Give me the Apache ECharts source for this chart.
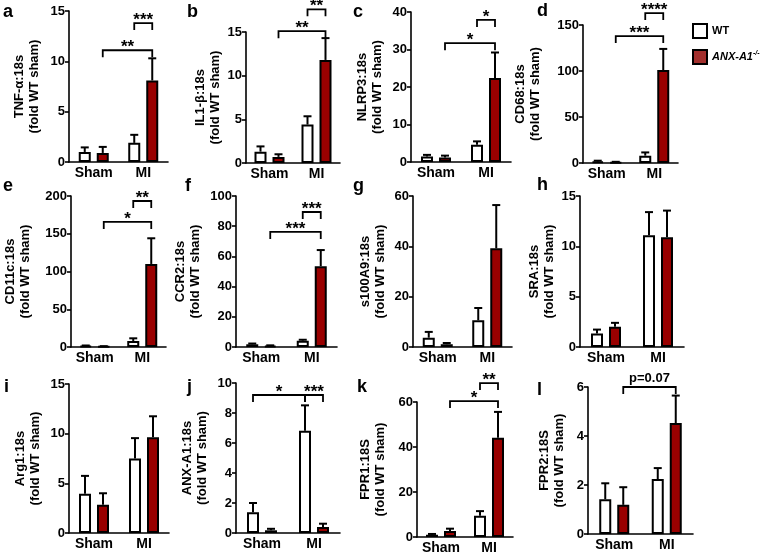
<!DOCTYPE html>
<html><head><meta charset="utf-8">
<script src="https://cdn.jsdelivr.net/npm/echarts@6/dist/echarts.min.js"></script>
<style>html,body{margin:0;padding:0;background:#fff}#c{width:760px;height:556px}</style>
</head><body><div id="c"></div>
<script>
const categories = ['Sham', 'MI'];
const seriesNames = ['WT', 'KO'];
// values: [Sham, MI]; errors are the upward SEM bars
const tnfWT = [1.0, 1.9],  tnfWTErr = [0.45, 0.8],  tnfKO = [0.9, 8.1],   tnfKOErr = [0.6, 2.2];
const il1WT = [1.3, 4.4],  il1WTErr = [0.6, 0.95],  il1KO = [0.7, 11.8],  il1KOErr = [0.3, 2.5];
const nlrWT = [1.5, 4.6],  nlrWTErr = [0.4, 0.9],   nlrKO = [1.2, 22.4],  nlrKOErr = [0.5, 6.8];
const cd68WT = [1.5, 8],   cd68WTErr = [1.0, 3.5],  cd68KO = [0.8, 101],  cd68KOErr = [0.5, 23];
const cd11WT = [1.5, 8],   cd11WTErr = [0.5, 3.5],  cd11KO = [0.8, 110],  cd11KOErr = [0.3, 34];
const ccr2WT = [1.8, 4.2], ccr2WTErr = [0.5, 0.6],  ccr2KO = [0.8, 53.5], ccr2KOErr = [0.3, 10.7];
const s100WT = [3.7, 10.6], s100WTErr = [2.3, 4.9], s100KO = [1.1, 39.2], s100KOErr = [0.5, 17.2];
const sraWT = [1.33, 11.1], sraWTErr = [0.4, 2.3],  sraKO = [2.0, 10.9],  sraKOErr = [0.4, 2.65];
const argWT = [3.95, 7.5], argWTErr = [1.8, 2.05],  argKO = [2.85, 9.65], argKOErr = [1.15, 2.1];
const anxWT = [1.38, 6.82], anxWTErr = [0.62, 1.69], anxKO = [0.18, 0.4], anxKOErr = [0.1, 0.22];
const fpr1WT = [1.0, 9.4], fpr1WTErr = [0.35, 2.1], fpr1KO = [2.7, 44.1], fpr1KOErr = [1.0, 11.5];
const fpr2WT = [1.42, 2.24], fpr2WTErr = [0.65, 0.45], fpr2KO = [1.19, 4.53], fpr2KOErr = [0.72, 1.12];

// significance brackets: [fromBar, toBar, level, label]; bars 0 Sham-WT,1 Sham-KO,2 MI-WT,3 MI-KO
const tnfSig = [[1, 3, 11.1, '**'], [2, 3, 13.8, '***']];
const il1Sig = [[1, 3, 15.1, '**'], [2, 3, 17.6, '**']];
const nlrSig = [[1, 3, 31.7, '*'], [2, 3, 37.9, '*']];
const cd68Sig = [[1, 3, 138, '***'], [2, 3, 163, '****']];
const cd11Sig = [[1, 3, 165.6, '*'], [2, 3, 193.4, '**']];
const ccr2Sig = [[1, 3, 76.2, '***'], [2, 3, 89.4, '***']];
const anxSig = [[0, 2, 9.2, '*'], [2, 3, 9.2, '***']];
const fpr1Sig = [[1, 3, 60.4, '*'], [2, 3, 68.4, '**']];
const fpr2Sig = [[1, 3, 6.0, 'p=0.07']];

const yTitles = ['TNF-\u03b1:18s', 'IL1-\u03b2:18s', 'NLRP3:18s', 'CD68:18s', 'CD11c:18s', 'CCR2:18s',
  's100A9:18s', 'SRA:18s', 'Arg1:18s', 'ANX-A1:18s', 'FPR1:18S', 'FPR2:18S'];
const yMax = [15, 15, 40, 150, 200, 100, 60, 15, 15, 10, 60, 6];
const yStep = [5, 5, 10, 50, 50, 20, 20, 5, 5, 2, 20, 2];
const letters = ['a','b','c','d','e','f','g','h','i','j','k','l'];

const panels = [
  [tnfWT, tnfWTErr, tnfKO, tnfKOErr, tnfSig],
  [il1WT, il1WTErr, il1KO, il1KOErr, il1Sig],
  [nlrWT, nlrWTErr, nlrKO, nlrKOErr, nlrSig],
  [cd68WT, cd68WTErr, cd68KO, cd68KOErr, cd68Sig],
  [cd11WT, cd11WTErr, cd11KO, cd11KOErr, cd11Sig],
  [ccr2WT, ccr2WTErr, ccr2KO, ccr2KOErr, ccr2Sig],
  [s100WT, s100WTErr, s100KO, s100KOErr, []],
  [sraWT, sraWTErr, sraKO, sraKOErr, []],
  [argWT, argWTErr, argKO, argKOErr, []],
  [anxWT, anxWTErr, anxKO, anxKOErr, anxSig],
  [fpr1WT, fpr1WTErr, fpr1KO, fpr1KOErr, fpr1Sig],
  [fpr2WT, fpr2WTErr, fpr2KO, fpr2KOErr, fpr2Sig]
];

// layout: [left, width, top, zeroY, nameGap, letterX, letterY]
const layout = [
  [69, 99, 11, 162, 27, 3, 3], [246, 94, 32, 163, 23, 187, 3], [411, 100, 12, 162, 26, 353, 3], [583, 95, 25, 163, 40, 537, 2],
  [71, 95, 196, 347, 38, 3, 177], [236, 101, 196, 347, 33, 185, 177], [413, 99, 196, 347, 25, 353, 177], [580, 104, 196, 347, 23, 537, 176],
  [69, 100, 384, 533, 26, 4, 378], [236, 104, 383, 533, 26, 187, 378], [417, 96, 402, 537, 29, 357, 378], [588, 105, 387, 534, 21, 537, 381]
];

const FONT = 'Liberation Sans, Arial, sans-serif';
const RED = '#990000';
const BW = 12, OFF = 9;

const grid = [], xAxis = [], yAxis = [], series = [], title = [];
panels.forEach((p, i) => {
  const [L, W, T, B, gap, lx, ly] = layout[i];
  grid.push({ left: L, top: T, width: W, height: B - T });
  title.push({ text: letters[i], left: lx, top: ly, padding: 0,
    textStyle: { fontSize: 18, fontWeight: 'bold', fontFamily: FONT, color: '#000' } });
  xAxis.push({ type: 'category', data: categories, gridIndex: i,
    axisLine: { lineStyle: { color: '#000', width: 1.6 } },
    axisTick: { alignWithLabel: true, length: 4, lineStyle: { color: '#000', width: 1.6 } },
    axisLabel: { interval: 0, hideOverlap: false, color: '#000', fontWeight: 'bold', fontSize: 14, fontFamily: FONT, margin: 4 } });
  yAxis.push({ type: 'value', gridIndex: i, min: 0, max: yMax[i], interval: yStep[i],
    name: yTitles[i] + '\n(fold WT sham)', nameLocation: 'middle', nameRotate: 90, nameGap: gap,
    nameTextStyle: { color: '#000', fontWeight: 'bold', fontSize: 13, fontFamily: FONT, lineHeight: 15 },
    axisLine: { show: true, lineStyle: { color: '#000', width: 1.6 } },
    axisTick: { show: true, length: 4, lineStyle: { color: '#000', width: 1.6 } },
    splitLine: { show: false },
    axisLabel: { color: '#000', fontWeight: 'bold', fontSize: 13, fontFamily: FONT, margin: 4 } });
  const [wt, wte, ko, koe, sig] = p;
  series.push({ type: 'bar', name: 'WT', xAxisIndex: i, yAxisIndex: i, data: wt, barWidth: BW, barGap: '50%',
    itemStyle: { color: '#fff', borderColor: '#000', borderWidth: 2 }, z: 3 });
  series.push({ type: 'bar', name: 'KO', xAxisIndex: i, yAxisIndex: i, data: ko, barWidth: BW, barGap: '50%',
    itemStyle: { color: RED, borderColor: '#000', borderWidth: 2 }, z: 3 });
  [[wt, wte, -OFF], [ko, koe, OFF]].forEach(([m, e, off]) => {
    series.push({ type: 'custom', xAxisIndex: i, yAxisIndex: i, z: 2, clip: false,
      data: m.map((v, j) => [j, v, v + e[j]]), encode: { x: 0, y: [1, 2] },
      renderItem: (params, api) => {
        const a = api.coord([api.value(0), api.value(1)]);
        const b = api.coord([api.value(0), api.value(2)]);
        const x = a[0] + off;
        return { type: 'group', children: [
          { type: 'line', shape: { x1: x, y1: a[1], x2: x, y2: b[1] }, style: { stroke: '#000', lineWidth: 2 } },
          { type: 'line', shape: { x1: x - 4, y1: b[1], x2: x + 4, y2: b[1] }, style: { stroke: '#000', lineWidth: 2 } }
        ] };
      } });
  });
  if (sig.length) {
    series.push({ type: 'custom', xAxisIndex: i, yAxisIndex: i, z: 4, clip: false,
      data: sig.map(s => [Math.floor(s[0] / 2), Math.floor(s[1] / 2), s[2]]), encode: { x: [0, 1], y: 2 },
      renderItem: (params, api) => {
        const s = sig[params.dataIndex];
        const a = api.coord([api.value(0), api.value(2)]);
        const b = api.coord([api.value(1), api.value(2)]);
        const x1 = a[0] + (s[0] % 2 ? OFF : -OFF), x2 = b[0] + (s[1] % 2 ? OFF : -OFF), y = a[1];
        const star = s[3].indexOf('*') === 0;
        return { type: 'group', children: [
          { type: 'polyline', shape: { points: [[x1, y + 7], [x1, y], [x2, y], [x2, y + 7]] },
            style: { stroke: '#000', lineWidth: 1.8, fill: null } },
          { type: 'text', style: { text: s[3], x: (x1 + x2) / 2, y: star ? y + 6 : y - 2, align: 'center', verticalAlign: 'bottom',
            font: star ? 'bold 17px ' + FONT : 'bold 13px ' + FONT, fill: '#000' } }
        ] };
      } });
  }
});

const chart = echarts.init(document.getElementById('c'), null, { renderer: 'canvas' });
chart.setOption({
  animation: false,
  backgroundColor: '#fff',
  title: title,
  legend: { orient: 'vertical', left: 687, top: 18, itemWidth: 14, itemHeight: 14, itemGap: 10, icon: 'rect',
    selectedMode: false,
    data: [{ name: 'WT', itemStyle: { color: '#fff', borderColor: '#000', borderWidth: 2 } },
           { name: 'KO', itemStyle: { color: '#a3302e', borderColor: '#000', borderWidth: 2 } }],
    formatter: n => n === 'WT' ? '{w|WT}' : '{i|ANX-A1}{s|-/-}',
    textStyle: { rich: {
      w: { fontWeight: 'bold', fontSize: 11, fontFamily: FONT, color: '#000' },
      i: { fontWeight: 'bold', fontStyle: 'italic', fontSize: 11, fontFamily: FONT, color: '#000' },
      s: { fontWeight: 'bold', fontStyle: 'italic', fontSize: 7, fontFamily: FONT, color: '#000', padding: [0, 0, 7, 0] } } } },
  grid: grid, xAxis: xAxis, yAxis: yAxis, series: series
});
</script></body></html>
